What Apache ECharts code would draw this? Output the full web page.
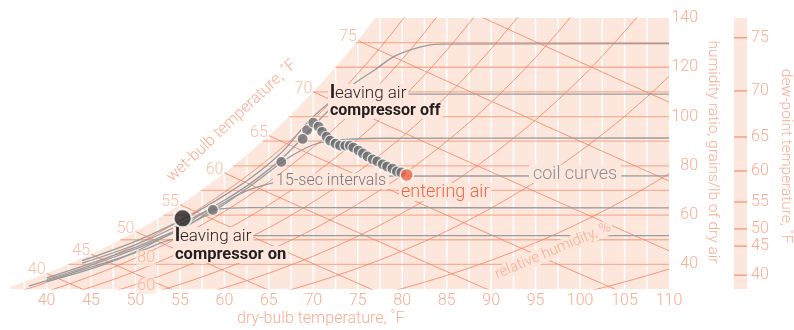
<!DOCTYPE html>
<html>
<head>
<meta charset="utf-8">
<script src="https://cdn.jsdelivr.net/npm/echarts@6/dist/echarts.min.js"></script>
<style>
html,body{margin:0;padding:0;background:#fff;}
#chart{width:794px;height:330px;}
</style>
</head>
<body>
<div id="chart"></div>
<script>
// ---- chart data -------------------------------------------------------
// dry-bulb temperature (°F) and humidity ratio (grains/lb) of each reading
const compressorOffTemp   = [70.0, 70.6, 71.0, 71.5, 71.9, 72.5, 73.0, 73.6, 74.1, 74.5, 75.1, 75.6, 76.1, 76.7, 77.2, 77.8, 78.3, 78.9, 79.4, 79.9];
const compressorOffGrains = [97.5, 95.9, 93.8, 91.8, 90.2, 89.0, 88.2, 88.2, 88.2, 87.4, 86.2, 85.0, 83.8, 82.6, 81.8, 80.6, 79.7, 78.9, 77.7, 77.3];
const pullDownTemp   = [69.3, 68.8, 66.4, 58.7];
const pullDownGrains = [94.5, 90.9, 81.6, 62.1];
const enteringAir = [80.5, 76.3];
const leavingAirOn = [55.3, 58.7];

// coil curves: [°F, grains] points along each curve
const coilCurves = [
  [[44.0, 41.5], [52.0, 52.5], [60.0, 68.0], [66.0, 84.0], [70.0, 100.0], [74.7, 113.6], [76.9, 118.9], [79.2, 124.6], [82.0, 128.2], [84.2, 129.4], [110, 129.6]],
  [[44.0, 40.5], [52.0, 51.0], [60.0, 66.0], [66.0, 81.5], [69.5, 94.0], [72.5, 104.5], [76.0, 108.6], [80.0, 109.1], [110, 109.1]],
  [[40.0, 34.5], [50.0, 47.0], [58.0, 60.0], [63.0, 72.0], [68.0, 85.0], [72.0, 90.2], [78.0, 91.2], [110, 91.3]],
  [[40.0, 33.8], [48.0, 43.5], [55.0, 54.0], [59.0, 63.0], [63.0, 70.5], [68.0, 74.5], [75.0, 75.8], [110, 75.9]],
  [[40.0, 33.0], [48.0, 42.0], [55.0, 54.5], [58.7, 62.1], [63.0, 63.0], [70.0, 63.0], [110, 62.9]],
  [[38.0, 31.2], [46.0, 40.0], [51.0, 46.0], [54.0, 50.0], [58.0, 51.5], [65.0, 51.7], [110, 51.7]]
];

// axis ticks
const dryBulbTicks = [40, 45, 50, 55, 60, 65, 70, 75, 80, 85, 90, 95, 100, 105, 110];
const grainTicks = [40, 60, 80, 100, 120, 140];
const dewPointTicks  = [40, 45, 50, 55, 60, 65, 70, 75];
const dewPointGrains = [35.6, 47.4, 54.4, 65.3, 77.9, 91.7, 110.4, 132.0];
const wetBulbTicks = [40, 45, 50, 55, 60, 65, 70, 75];
const wetBulbLines = [40, 45, 50, 55, 60, 65, 70, 75, 80];
const rhLines = [10, 20, 30, 40, 50, 60, 70, 80, 90];
const rhLabels = [80, 60];
const grainLines = [40, 50, 60, 70, 80, 90, 100, 110, 120, 130];

// ---- sea-level psychrometrics for the chart grid -----------------------
const P_ATM = 14.696;                    // psia
function pws(tF) {                        // saturation pressure, psia
  const c = (tF - 32) / 1.8;
  return 6.112 * Math.exp(17.62 * c / (243.12 + c)) * 0.0145038;
}
function wFromPw(pw) { return 0.622 * pw / (P_ATM - pw); }
function satGrains(tF) { return 7000 * wFromPw(pws(tF)); }
function rhGrains(tF, rh) { return 7000 * wFromPw(rh / 100 * pws(tF)); }
function wbGrains(tF, twb) {
  const ws = wFromPw(pws(twb));
  return 7000 * ((1093 - 0.556 * twb) * ws - 0.240 * (tF - twb)) / (1093 + 0.444 * tF - twb);
}
function satTempAt(grains) {              // dew point for a humidity ratio
  let lo = 0, hi = 130;
  for (let i = 0; i < 60; i++) {
    const m = (lo + hi) / 2;
    if (satGrains(m) < grains) lo = m; else hi = m;
  }
  return (lo + hi) / 2;
}

const T_MIN = 36, T_MAX = 110, G_MIN = 30, G_MAX = 140;

// ---- colours ----------------------------------------------------------
const PEACH = '#fde7dc';
const SALMON_TEXT = '#f9ad93';
const ORANGE = '#f47f61';
const GRAIN_LINE = '#faae95';
const GRAY_LINE = '#9a9b9d';
const DOT_GRAY = '#6d6e71';
const FONT = 'Roboto, "Liberation Sans", sans-serif';

// ---- build series -----------------------------------------------------
const series = [];
function lineSeries(data, color, width, z, opacity) {
  series.push({
    type: 'line', data: data, symbol: 'none', silent: true, clip: true,
    lineStyle: { color: color, width: width, opacity: opacity == null ? 1 : opacity }, z: z, animation: false
  });
}

// saturated region
const satData = [];
for (let t = T_MIN; t <= 78; t += 0.25) {
  const g = satGrains(t);
  if (g > G_MAX) { satData.push([satTempAt(G_MAX), G_MAX]); break; }
  satData.push([t, g]);
}
satData.push([T_MAX, G_MAX]);
series.push({
  type: 'line', data: satData, symbol: 'none', silent: true, animation: false,
  lineStyle: { width: 0 }, areaStyle: { color: PEACH, opacity: 1, origin: 'start' }, z: 1
});

// white dry-bulb grid every 2.5 °F
for (let t = 37.5; t < T_MAX; t += 2.5) {
  lineSeries([[t, G_MIN], [t, Math.min(G_MAX, satGrains(t))]], '#ffffff', 1.5, 2);
}
// humidity-ratio grid
grainLines.forEach(g => lineSeries([[satTempAt(g), g], [T_MAX, g]], GRAIN_LINE, 1.3, 3));
// relative humidity curves
rhLines.forEach(rh => {
  const d = [];
  for (let t = T_MIN; t <= T_MAX + 0.01; t += 0.5) d.push([t, rhGrains(t, rh)]);
  lineSeries(d, ORANGE, 0.9, 4, 0.9);
});
// wet-bulb lines
wetBulbLines.forEach(wb => {
  const d = [];
  for (let t = wb; t <= T_MAX + 0.01; t += 0.5) d.push([t, wbGrains(t, wb)]);
  lineSeries(d, ORANGE, 0.9, 4, 0.9);
});
// coil curves
coilCurves.forEach(c => {
  series.push({
    type: 'line', data: c, symbol: 'none', smooth: 0.4, silent: true, clip: true,
    lineStyle: { color: GRAY_LINE, width: 1.3 }, z: 6, animation: false
  });
});

// readings
const zip = (a, b) => a.map((v, i) => [v, b[i]]);
series.push({
  type: 'scatter', data: zip(pullDownTemp, pullDownGrains), symbolSize: 11, z: 10,
  itemStyle: { color: DOT_GRAY, borderColor: '#fff', borderWidth: 1.2 }, silent: true, animation: false
});
series.push({
  type: 'scatter', data: zip(compressorOffTemp, compressorOffGrains), symbolSize: 11, z: 10,
  itemStyle: { color: DOT_GRAY, borderColor: '#fff', borderWidth: 1.2 }, silent: true, animation: false
});
series.push({
  type: 'scatter', data: [enteringAir], symbolSize: 13, z: 11,
  itemStyle: { color: '#ef6547', borderColor: '#fff', borderWidth: 1.5 }, silent: true, animation: false
});
series.push({
  type: 'scatter', data: [leavingAirOn], symbolSize: 18, z: 11,
  itemStyle: { color: '#231f20', borderColor: '#fff', borderWidth: 2 }, silent: true, animation: false
});

// wet-bulb scale labels along saturation
series.push({
  type: 'scatter', symbolSize: 0, silent: true, animation: false, z: 8,
  data: wetBulbTicks.map(t => [t, satGrains(t), t]),
  label: {
    show: true, position: 'left', distance: 1, offset: [0, -3],
    formatter: p => p.value[2], color: SALMON_TEXT, fontSize: 16, fontFamily: FONT, fontWeight: 300
  }
});
// relative humidity labels
series.push({
  type: 'scatter', symbolSize: 0, silent: true, animation: false, z: 8,
  data: rhLabels.map(rh => [51.2, rhGrains(51.2, rh), rh]),
  label: {
    show: true, position: 'inside', offset: [0, 5],
    formatter: p => p.value[2], color: SALMON_TEXT, fontSize: 16, fontFamily: FONT, fontWeight: 300,
    backgroundColor: PEACH, padding: [0, 1]
  }
});

// dew-point scale
series.push({
  type: 'custom', xAxisIndex: 1, yAxisIndex: 1, silent: true, animation: false,
  data: dewPointTicks.map((d, i) => [0, dewPointGrains[i], d]),
  renderItem: function (params, api) {
    const p0 = api.coord([0, api.value(1)]);
    const p1 = api.coord([1, api.value(1)]);
    return {
      type: 'group', children: [
        { type: 'line', shape: { x1: p0[0], y1: p0[1], x2: p1[0], y2: p1[1] }, style: { stroke: ORANGE, lineWidth: 1.3, opacity: 0.8 } },
        { type: 'text', x: p1[0] + 4, y: p0[1], style: { text: String(api.value(2)), fill: SALMON_TEXT, font: '300 16px ' + FONT, textVerticalAlign: 'middle', verticalAlign: 'middle' } }
      ]
    };
  }
});

const option = {
  animation: false,
  textStyle: { fontFamily: FONT },
  grid: [
    { left: 11, top: 18, width: 658, height: 271, containLabel: false },
    { left: 734, top: 18, width: 13, height: 271, show: true, backgroundColor: PEACH, borderWidth: 0 }
  ],
  xAxis: [
    {
      type: 'value', min: T_MIN, max: T_MAX, gridIndex: 0,
      axisLine: { show: false }, axisTick: { show: false }, splitLine: { show: false },
      axisLabel: { customValues: dryBulbTicks, color: SALMON_TEXT, fontSize: 16, fontWeight: 300, margin: 4, fontFamily: FONT }
    },
    { type: 'value', min: 0, max: 1, gridIndex: 1, show: false }
  ],
  yAxis: [
    {
      type: 'value', min: G_MIN, max: G_MAX, gridIndex: 0, position: 'right',
      axisLine: { show: false }, axisTick: { show: false }, splitLine: { show: false },
      axisLabel: { customValues: grainTicks, color: SALMON_TEXT, fontSize: 16, fontWeight: 300, margin: 29, align: 'right', fontFamily: FONT }
    },
    { type: 'value', min: G_MIN, max: G_MAX, gridIndex: 1, show: false }
  ],
  series: series,
  graphic: [
    { type: 'text', left: 237, top: 311, style: { text: 'dry-bulb temperature, ˚F', fill: SALMON_TEXT, font: '300 16px ' + FONT } },
    { type: 'text', x: 713, y: 152, rotation: -Math.PI / 2, style: { text: 'humidity ratio, grains/lb of dry air', fill: SALMON_TEXT, font: '300 15.5px ' + FONT, align: 'center', verticalAlign: 'middle' } },
    { type: 'text', x: 786, y: 156, rotation: -Math.PI / 2, style: { text: 'dew-point temperature, ˚F', fill: SALMON_TEXT, font: '300 15.5px ' + FONT, align: 'center', verticalAlign: 'middle' } },
    { type: 'text', x: 232, y: 121, rotation: 43 * Math.PI / 180, style: { text: 'wet-bulb temperature, ˚F', fill: SALMON_TEXT, font: '300 16px ' + FONT, align: 'center', verticalAlign: 'middle' } },
    { type: 'text', x: 553, y: 251, rotation: 23 * Math.PI / 180, z: 20, style: { text: 'relative humidity, %', fill: SALMON_TEXT, font: '300 15px ' + FONT, align: 'center', verticalAlign: 'middle', backgroundColor: PEACH, padding: [0, 2] } },
    { type: 'text', left: 328, top: 84, z: 20, style: { rich: { l: { fontSize: 19, fontWeight: 700, fill: '#231f20', fontFamily: FONT }, r: { fontSize: 17, fontWeight: 300, fill: '#231f20', fontFamily: FONT } }, text: '{l|l}{r|eaving air}', backgroundColor: PEACH, padding: [0, 2] } },
    { type: 'text', left: 328, top: 103, z: 20, style: { text: 'compressor off', fill: '#231f20', font: '700 16px ' + FONT, backgroundColor: PEACH, padding: [0, 2] } },
    { type: 'text', left: 173, top: 227, z: 20, style: { rich: { l: { fontSize: 19, fontWeight: 700, fill: '#231f20', fontFamily: FONT }, r: { fontSize: 17, fontWeight: 300, fill: '#231f20', fontFamily: FONT } }, text: '{l|l}{r|eaving air}', backgroundColor: PEACH, padding: [0, 2] } },
    { type: 'text', left: 173, top: 246, z: 20, style: { text: 'compressor on', fill: '#231f20', font: '700 16.5px ' + FONT, backgroundColor: PEACH, padding: [0, 2] } },
    { type: 'text', left: 273, top: 173, z: 20, style: { text: '15-sec intervals', fill: '#77787b', font: '300 16px ' + FONT, backgroundColor: PEACH, padding: [0, 3] } },
    { type: 'text', left: 529, top: 165, z: 20, style: { text: 'coil curves', fill: '#8c8d90', font: '300 18px ' + FONT, backgroundColor: PEACH, padding: [0, 4] } },
    { type: 'text', left: 399, top: 183, z: 20, style: { text: 'entering air', fill: '#ef6547', font: '300 18px ' + FONT, backgroundColor: PEACH, padding: [0, 2] } }
  ]
};

const chart = echarts.init(document.getElementById('chart'), null, { renderer: 'canvas' });
chart.setOption(option);
</script>
</body>
</html>
